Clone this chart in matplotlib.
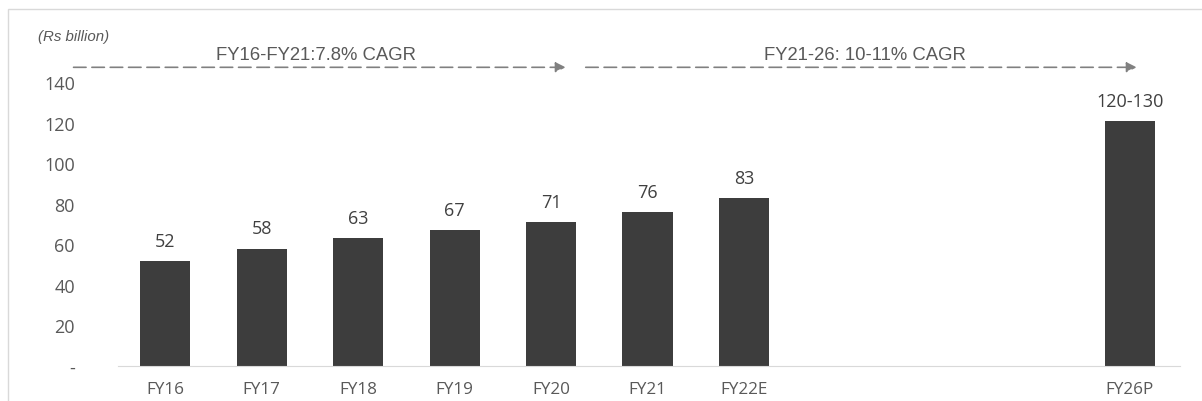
import matplotlib.pyplot as plt
from matplotlib.patches import Rectangle

plt.rcParams['font.family'] = ['Open Sans', 'DejaVu Sans']

# Market size, Rs billion
years = ["FY16", "FY17", "FY18", "FY19", "FY20", "FY21", "FY22E", "FY26P"]
slots = [0, 1, 2, 3, 4, 5, 6, 10]
values = [52, 58, 63, 67, 71, 76, 83, 121]
labels = ["52", "58", "63", "67", "71", "76", "83", "120-130"]
yticks = [0, 20, 40, 60, 80, 100, 120, 140]
ytick_labels = ["-", "20", "40", "60", "80", "100", "120", "140"]

grey = "#595959"

fig = plt.figure(figsize=(12.02, 4.02), dpi=100)
ax = fig.add_axes([0.0982, 0.0871, 0.8835, 0.7052])

ax.bar(slots, values, width=0.52, color="#3d3d3d", zorder=2)
for x, v, t in zip(slots, values, labels):
    ax.annotate(t, (x, v), xytext=(0, 8), textcoords="offset points",
                ha="center", va="bottom", fontsize=13, color="#404040")

ax.set_xlim(-0.49, 10.52)
ax.set_ylim(0, 140)
ax.set_xticks(slots)
ax.set_xticklabels(years, fontsize=12.3)
ax.set_yticks(yticks)
ax.set_yticklabels(ytick_labels, fontsize=13)
ax.tick_params(length=0, colors=grey)
ax.tick_params(axis="y", pad=31)
ax.tick_params(axis="x", pad=11)
for s in ["left", "right", "top"]:
    ax.spines[s].set_visible(False)
ax.spines["bottom"].set_color("#d9d9d9")

# CAGR arrows above the bars
arrow_y = 147.5
arrows = [(-0.98, 4.18, "FY16-FY21:7.8% CAGR", 1.565),
          (4.33, 10.1, "FY21-26: 10-11% CAGR", 7.25)]
for x0, x1, txt, xt in arrows:
    ax.annotate("", xy=(x1, arrow_y), xytext=(x0, arrow_y),
                annotation_clip=False,
                arrowprops=dict(arrowstyle="-|>", linestyle=(0, (7.5, 3.5)),
                                color="#808080", lw=1.2, mutation_scale=15))
    ax.text(xt, arrow_y + 2.0, txt, ha="center", va="bottom", fontsize=13.3,
            color=grey, clip_on=False, family="Liberation Sans")

fig.text(38 / 1202, 1 - 37 / 402, "(Rs billion)", fontsize=10.8, style="italic",
         color=grey, ha="left", va="center", family="Liberation Sans")

# thin frame around the figure
fig.patches.append(Rectangle((8 / 1202, -0.1), 1.2, 1.1 - 10 / 402,
                             transform=fig.transFigure, fill=False,
                             edgecolor="#d9d9d9", lw=1))

fig.savefig("out.png", dpi=100)
